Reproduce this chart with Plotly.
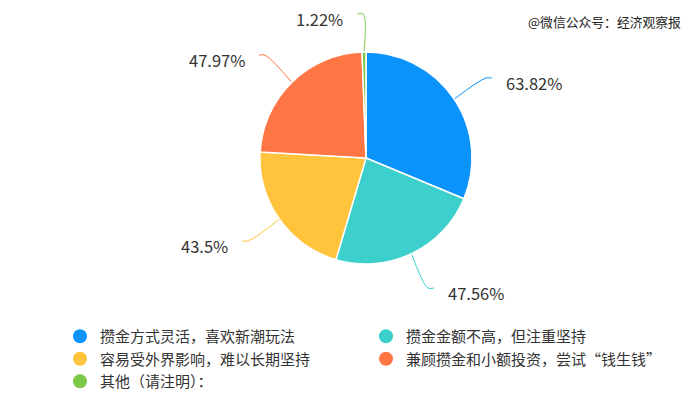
import math
import plotly.graph_objects as go

categories = ["攒金方式灵活，喜欢新潮玩法", "攒金金额不高，但注重坚持", "容易受外界影响，难以长期坚持",
              "兼顾攒金和小额投资，尝试“钱生钱”", "其他（请注明）："]
values = [63.82, 47.56, 43.5, 47.97, 1.22]
value_labels = ["63.82%", "47.56%", "43.5%", "47.97%", "1.22%"]
colors = ["#0a93fb", "#3ccfcc", "#ffc33c", "#ff7543", "#7cc94a"]

W, H = 700, 405
CX, CY, R = 366, 158, 106
LEN1, LEN2, GAP, DY = 38, 6, 12, 5
FONT = "Noto Sans CJK SC, Microsoft YaHei, sans-serif"

fig = go.Figure()
fig.add_trace(go.Pie(
    labels=categories, values=values, sort=False, direction="clockwise", rotation=0,
    marker=dict(colors=colors, line=dict(color="white", width=1.5)),
    textinfo="none", hoverinfo="label+text", text=value_labels, showlegend=False,
    domain=dict(x=[(CX - R) / W, (CX + R) / W], y=[1 - (CY + R) / H, 1 - (CY - R) / H]),
))

total = sum(values)
cum = 0.0
annotations = []
for cat, v, lab, col in zip(categories, values, value_labels, colors):
    mid = (cum + v / 2) / total * 2 * math.pi
    cum += v
    dx, dy = math.sin(mid), -math.cos(mid)
    x0, y0 = CX + R * dx, CY + R * dy
    x1, y1 = CX + (R + LEN1) * dx, CY + (R + LEN1) * dy
    side = 1 if dx >= 0 else -1
    x2, y2 = x1 + side * LEN2, y1
    fig.add_trace(go.Scatter(x=[x0, x1, x2], y=[y0, y1, y2], mode="lines",
                             line=dict(color=col, width=1, shape="spline"),
                             hoverinfo="skip", showlegend=False, xaxis="x", yaxis="y"))
    annotations.append(dict(x=x2 + side * GAP, y=y2 + DY, xref="x", yref="y", text=lab,
                            showarrow=False, xanchor="left" if side > 0 else "right",
                            yanchor="middle", font=dict(size=16.5, color="#333", family=FONT)))

for cat, col in zip(categories, colors):
    fig.add_trace(go.Scatter(x=[None], y=[None], mode="markers", name=cat,
                             marker=dict(color=col, size=14, symbol="circle"),
                             xaxis="x", yaxis="y"))

annotations.append(dict(x=683, y=21, xref="x", yref="y", text="@微信公众号：经济观察报",
                        showarrow=False, xanchor="right", yanchor="middle",
                        font=dict(size=12.8, color="#222", family=FONT)))

fig.update_layout(
    width=W, height=H, margin=dict(l=0, r=0, t=0, b=0),
    paper_bgcolor="white", plot_bgcolor="rgba(0,0,0,0)",
    xaxis=dict(range=[0, W], visible=False, fixedrange=True),
    yaxis=dict(range=[H, 0], visible=False, fixedrange=True),
    annotations=annotations,
    legend=dict(orientation="h", x=60 / W, xanchor="left", y=1 - 320 / H, yanchor="top",
                entrywidth=261, entrywidthmode="pixels", traceorder="normal",
                font=dict(size=15, color="#333", family=FONT), itemsizing="trace",
                bgcolor="rgba(0,0,0,0)"),
    font=dict(family=FONT),
)

fig.write_html("out.html", config={"displayModeBar": False},
               post_script="document.body.style.margin='0';")
